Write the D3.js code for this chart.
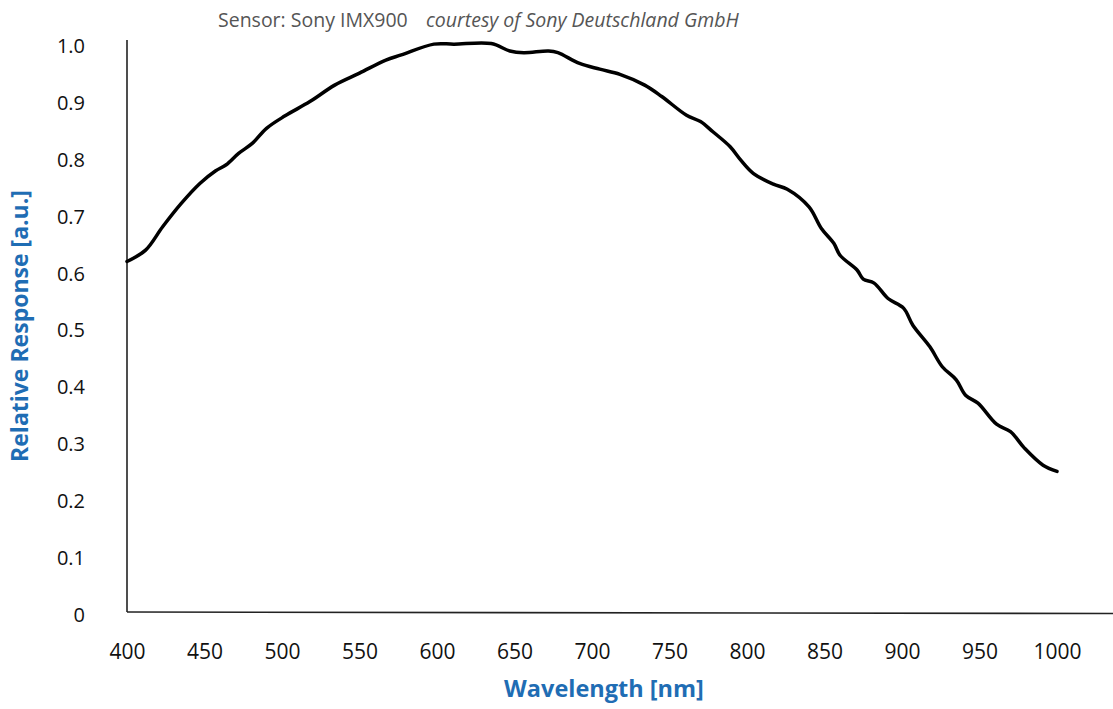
<!DOCTYPE html>
<html>
<head>
<meta charset="utf-8">
<script src="https://cdn.jsdelivr.net/npm/d3@7"></script>
<style>
  body { margin: 0; background: #fff; }
  text { font-family: "Open Sans", sans-serif; }
</style>
</head>
<body>
<svg id="chart" width="1113" height="709"></svg>
<script>
const width = 1113,
  height = 709;

// wavelength (nm) and relative response
const wavelengths = [400, 412, 423, 435, 447, 457, 464, 472, 481, 490, 502, 518, 534, 550, 567, 577, 598, 611, 635, 647, 656, 672, 678, 692, 705, 718, 734, 745, 761, 770, 778, 789, 796, 804, 817, 826, 840, 848, 856, 860, 871, 875, 882, 891, 901, 907, 918, 926, 935, 941, 949, 961, 970, 979, 991, 1000];
const responses = [0.616, 0.636, 0.677, 0.718, 0.753, 0.775, 0.786, 0.806, 0.824, 0.850, 0.872, 0.897, 0.926, 0.947, 0.970, 0.979, 0.998, 0.998, 0.999, 0.986, 0.983, 0.986, 0.983, 0.964, 0.954, 0.945, 0.926, 0.906, 0.873, 0.862, 0.844, 0.818, 0.794, 0.771, 0.752, 0.743, 0.712, 0.674, 0.648, 0.627, 0.601, 0.585, 0.578, 0.551, 0.534, 0.504, 0.466, 0.431, 0.408, 0.381, 0.367, 0.330, 0.317, 0.288, 0.258, 0.247];

const xTicks = [400, 450, 500, 550, 600, 650, 700, 750, 800, 850, 900, 950, 1000];
const yTicks = [0, 0.1, 0.2, 0.3, 0.4, 0.5, 0.6, 0.7, 0.8, 0.9, 1.0];

const blue = "#1f6db4";

const svg = d3.select("#chart");

const x = d3.scaleLinear().domain([400, 1000]).range([127, 1057]);
const y = d3.scaleLinear().domain([0, 1]).range([612, 43]);

// axis lines
svg.append("line")
  .attr("x1", x(400)).attr("x2", x(400))
  .attr("y1", 40).attr("y2", y(0))
  .attr("stroke", "#222").attr("stroke-width", 1.6);

svg.append("line")
  .attr("x1", x(400)).attr("x2", width)
  .attr("y1", y(0)).attr("y2", y(0) + 1.5)
  .attr("stroke", "#222").attr("stroke-width", 1.6);

// tick labels through the axis generators, no tick marks
const yAxis = svg.append("g")
  .attr("transform", "translate(85,3)")
  .call(d3.axisLeft(y).tickValues(yTicks).tickSize(0).tickPadding(0)
    .tickFormat(d => d === 0 ? "0" : d3.format(".1f")(d)));
yAxis.select(".domain").remove();
yAxis.selectAll("text")
  .attr("font-family", "Open Sans, sans-serif")
  .attr("font-size", 20)
  .attr("fill", "#111");

const xAxis = svg.append("g")
  .attr("transform", "translate(0,644)")
  .call(d3.axisBottom(x).tickValues(xTicks).tickSize(0).tickPadding(0)
    .tickFormat(d3.format("d")));
xAxis.select(".domain").remove();
xAxis.selectAll("text")
  .attr("font-family", "Open Sans, sans-serif")
  .attr("font-size", 21)
  .attr("fill", "#111");

// response curve
const points = wavelengths.map((w, i) => [w, responses[i]]);
const line = d3.line()
  .x(d => x(d[0]))
  .y(d => y(d[1]))
  .curve(d3.curveCatmullRom.alpha(0.5));

svg.append("path")
  .datum(points)
  .attr("d", line)
  .attr("fill", "none")
  .attr("stroke", "#000")
  .attr("stroke-width", 3.5)
  .attr("stroke-linejoin", "round")
  .attr("stroke-linecap", "round");

// title
const title = svg.append("text")
  .attr("x", 218)
  .attr("y", 27)
  .attr("font-size", 19.5)
  .attr("fill", "#555");
title.append("tspan").text("Sensor: Sony IMX900");
title.append("tspan")
  .attr("x", 426)
  .attr("font-style", "italic")
  .text("courtesy of Sony Deutschland GmbH");

// axis titles
svg.append("text")
  .attr("x", 604)
  .attr("y", 697)
  .attr("text-anchor", "middle")
  .attr("font-size", 23.5)
  .attr("font-weight", "bold")
  .attr("fill", blue)
  .text("Wavelength [nm]");

svg.append("text")
  .attr("transform", "translate(28,326) rotate(-90)")
  .attr("text-anchor", "middle")
  .attr("font-size", 23)
  .attr("font-weight", "bold")
  .attr("fill", blue)
  .text("Relative Response [a.u.]");
</script>
</body>
</html>
